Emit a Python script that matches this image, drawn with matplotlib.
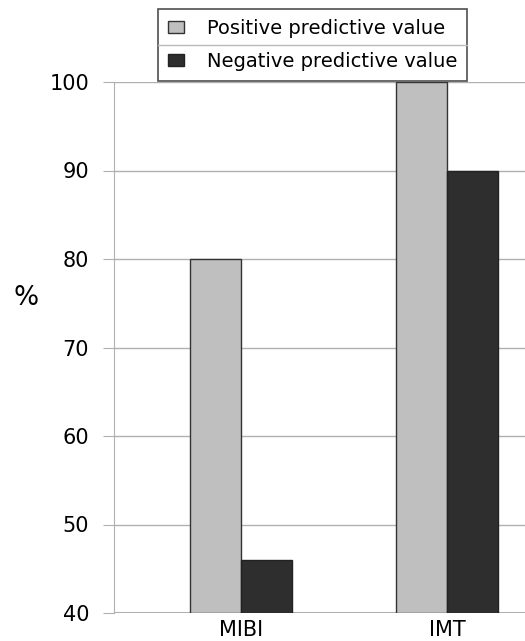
import matplotlib.pyplot as plt
import numpy as np
from matplotlib.lines import Line2D
from matplotlib.patches import Patch

plt.rcParams['font.family'] = ['DejaVu Sans']

categories = ["MIBI", "IMT"]
positive = [80, 100]
negative = [46, 90]
yticks = [40, 50, 60, 70, 80, 90, 100]

fig = plt.figure(figsize=(5.25, 6.41), dpi=100)
# axes: left 114px, right 525px, top y=82, bottom y=613
ax = fig.add_axes([114/525, 1 - 613/641, 411/525, (613 - 82)/641])

x = np.arange(len(categories))
w = 0.248
ax.bar(x - w/2, np.array(positive) - 40, w, bottom=40, color="#bfbfbf",
       edgecolor="#333333", linewidth=1, zorder=3)
ax.bar(x + w/2, np.array(negative) - 40, w, bottom=40, color="#2e2e2e",
       edgecolor="#222222", linewidth=1, zorder=3)

ax.set_xlim(-0.617, 1.379)
ax.set_ylim(40, 100)
ax.set_yticks(yticks)
ax.set_xticks(x)
ax.set_xticklabels(categories)
ax.grid(axis="y", color="#b0b0b0", linewidth=1, zorder=0)

for s in ["top", "right", "bottom"]:
    ax.spines[s].set_visible(False)
ax.spines["left"].set_color("#b0b0b0")
ax.spines["left"].set_zorder(1)
ax.axhline(40, color="#b0b0b0", linewidth=1.5, zorder=1)

ax.tick_params(axis="y", length=8, color="#b0b0b0", labelsize=15, pad=10)
ax.tick_params(axis="x", length=0, labelsize=15, pad=5)
ax.set_ylabel("%", fontsize=19, rotation=0, va="center", ha="center")
ax.yaxis.set_label_coords(-0.215, 0.594)

handles = [Patch(facecolor="#bfbfbf", edgecolor="#333333"),
           Patch(facecolor="#2e2e2e", edgecolor="#222222")]
leg = fig.legend(handles, ["Positive predictive value", "Negative predictive value"],
                 loc="upper left", bbox_to_anchor=(158/525, 1 - 9/641),
                 fontsize=14, frameon=True, fancybox=False, edgecolor="#222222",
                 handlelength=0.82, handleheight=0.57, handletextpad=1.2,
                 borderpad=0.5, labelspacing=0.75, borderaxespad=0)
leg.get_frame().set_linewidth(1.2)

# divider between the two legend rows
fig.canvas.draw()
bb = leg.get_frame().get_window_extent()
ymid = (bb.y0 + bb.y1) / 2
fig.add_artist(Line2D([bb.x0 / 525, bb.x1 / 525], [ymid / 641, ymid / 641],
                      color="#bbbbbb", linewidth=1, zorder=10))

fig.savefig("out.png", dpi=100)
